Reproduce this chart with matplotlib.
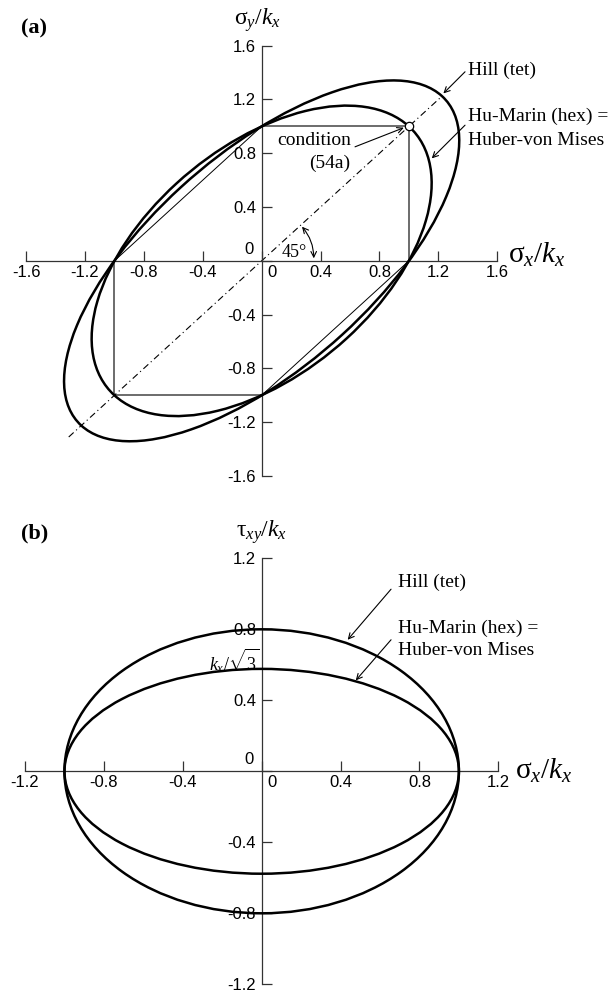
import matplotlib.pyplot as plt
from matplotlib.patches import Ellipse

plt.rcParams['mathtext.fontset'] = 'custom'
plt.rcParams['mathtext.rm'] = 'Liberation Serif'
plt.rcParams['mathtext.it'] = 'Liberation Serif:italic'

SANS = 'Liberation Sans'
SERIF = 'Liberation Serif'

# tick positions of both panels
ticks_a = [-1.6, -1.2, -0.8, -0.4, 0.0, 0.4, 0.8, 1.2, 1.6]
ticks_b = [-1.2, -0.8, -0.4, 0.0, 0.4, 0.8, 1.2]

# (a) semi-axes of the yield ellipses, major axis along the 45 deg line
hill_a = (1.732, 0.775)
mises_a = (1.414, 0.816)
# (b) semi-axes along sigma_x and tau_xy
hill_b = (1.0, 0.8)
mises_b = (1.0, 0.577)

# (a) square and chords joining the uniaxial points
square_up_x, square_up_y = [0, 1, 1], [1, 1, 0]
square_lo_x, square_lo_y = [-1, -1, 0], [0, -1, -1]
chord_1_x, chord_1_y = [-1, 0], [0, 1]
chord_2_x, chord_2_y = [1, 0], [0, -1]
diag_ends = [-1.31, 1.225]
point_54a = (1.0, 1.0)


def setup_axes(ax, ticks):
    lim = (ticks[0], ticks[-1])
    ax.set_xlim(lim)
    ax.set_ylim(lim)
    ax.patch.set_visible(False)
    for s in ['top', 'right']:
        ax.spines[s].set_visible(False)
    for s in ['left', 'bottom']:
        ax.spines[s].set_position(('data', 0))
        ax.spines[s].set_linewidth(0.9)
        ax.spines[s].set_color('#333333')
    labels = ['' if t == 0 else f'{t:g}' for t in ticks]
    ax.set_xticks(ticks)
    ax.set_yticks(ticks)
    ax.set_xticklabels(labels, family=SANS)
    ax.set_yticklabels(labels, family=SANS)
    ax.tick_params(direction='in', length=7, width=0.9, color='#333333', labelsize=12)
    ax.tick_params(axis='x', pad=3)
    ax.tick_params(axis='y', pad=4)
    ax.annotate('0', (0, 0), xytext=(-6, 3), textcoords='offset points',
                ha='right', va='bottom', fontsize=12, family=SANS)
    ax.annotate('0', (0, 0), xytext=(4, -3), textcoords='offset points',
                ha='left', va='top', fontsize=12, family=SANS)


def arrow(ax, start, end, style='->', conn='arc3'):
    ax.annotate('', xy=end, xytext=start,
                arrowprops=dict(arrowstyle=style, lw=0.8, color='k',
                                shrinkA=0, shrinkB=0, mutation_scale=10,
                                connectionstyle=conn))


fig = plt.figure(figsize=(6.15, 10), dpi=100)

# ---------------- (a) sigma_x - sigma_y plane ----------------
ax = fig.add_axes([0.0423, 0.524, 0.7663, 0.4303])
setup_axes(ax, ticks_a)

for a, b in [hill_a, mises_a]:
    ax.add_patch(Ellipse((0, 0), 2 * a, 2 * b, angle=45, fill=False,
                         lw=1.8, color='k', zorder=3))

ax.plot(square_up_x, square_up_y, color='#444444', lw=1.1)
ax.plot(square_lo_x, square_lo_y, color='#444444', lw=1.1)
ax.plot(chord_1_x, chord_1_y, color='k', lw=0.7)
ax.plot(chord_2_x, chord_2_y, color='k', lw=0.7)
ax.plot(diag_ends, diag_ends, color='k', lw=0.8, dashes=(6, 3, 1, 3))
ax.plot(*point_54a, 'o', ms=6, mfc='white', mec='k', mew=0.9, zorder=5)

ax.text(0.356, 0.898, 'condition', fontsize=14, family=SERIF, ha='center', va='center')
ax.text(0.46, 0.725, '(54a)', fontsize=14, family=SERIF, ha='center', va='center')
arrow(ax, (0.634, 0.848), (0.965, 0.99))

ax.text(0.22, 0.065, '45°', fontsize=13, family=SERIF, ha='center', va='center')
arrow(ax, (0.274, 0.254), (0.354, 0.019), style='<->', conn='arc3,rad=-0.18')

ax.text(1.403, 1.419, 'Hill (tet)', fontsize=14, family=SERIF, ha='left',
        va='center', clip_on=False)
arrow(ax, (1.381, 1.406), (1.234, 1.245))
ax.text(1.403, 1.071, 'Hu-Marin (hex) =', fontsize=14, family=SERIF, ha='left',
        va='center', clip_on=False)
ax.text(1.403, 0.898, 'Huber-von Mises', fontsize=14, family=SERIF, ha='left',
        va='center', clip_on=False)
arrow(ax, (1.381, 1.009), (1.155, 0.762))

ax.text(1.673, 0.043, r'$\mathrm{\sigma}_x/k_x$', fontsize=21, ha='left',
        va='center', clip_on=False)
ax.text(-0.03, 1.79, r'$\mathrm{\sigma}_y/k_x$', fontsize=17, ha='center',
        va='center', clip_on=False)

# ---------------- (b) sigma_x - tau_xy plane ----------------
ax = fig.add_axes([0.0407, 0.0157, 0.7696, 0.426])
setup_axes(ax, ticks_b)

for a, b in [hill_b, mises_b]:
    ax.add_patch(Ellipse((0, 0), 2 * a, 2 * b, fill=False, lw=1.8,
                         color='k', zorder=3))

ax.text(0.693, 1.063, 'Hill (tet)', fontsize=14, family=SERIF, ha='left', va='center')
arrow(ax, (0.656, 1.026), (0.436, 0.741))
ax.text(0.693, 0.807, 'Hu-Marin (hex) =', fontsize=14, family=SERIF, ha='left', va='center')
ax.text(0.693, 0.681, 'Huber-von Mises', fontsize=14, family=SERIF, ha='left', va='center')
arrow(ax, (0.656, 0.741), (0.477, 0.512))

ax.text(-0.012, 0.624, r'$k_x/\sqrt{3}$', fontsize=13, ha='right', va='center')

ax.text(1.284, 0.0, r'$\mathrm{\sigma}_x/k_x$', fontsize=21, ha='left',
        va='center', clip_on=False)
ax.text(0.0, 1.349, r'$\mathrm{\tau}_{xy}/k_x$', fontsize=17, ha='center',
        va='center', clip_on=False)

fig.text(0.034, 0.972, '(a)', fontsize=16, fontweight='bold', family=SERIF, va='center')
fig.text(0.034, 0.467, '(b)', fontsize=16, fontweight='bold', family=SERIF, va='center')

fig.savefig('out.png', dpi=100)
